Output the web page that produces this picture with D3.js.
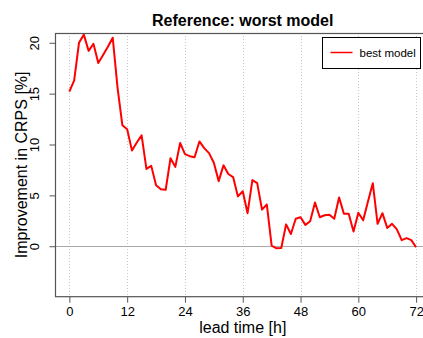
<!DOCTYPE html>
<html>
<head>
<meta charset="utf-8">
<script src="https://cdn.jsdelivr.net/npm/d3@7"></script>
<style>
  html, body { margin: 0; padding: 0; background: #fff; }
  svg { display: block; }
  text { font-family: "Liberation Sans", Arial, sans-serif; }
</style>
</head>
<body>
<svg id="chart" width="423" height="338"></svg>
<script>
// Lead times (hours) and CRPS improvement of the best model vs. the worst model (%)
const leadTimes = d3.range(0, 73);
const improvement = [
  15.2, 16.3, 20.0, 20.8, 19.2, 19.9, 18.0, 18.8, 19.6, 20.5,
  15.6, 11.9, 11.5, 9.4, 10.2, 10.9, 7.6, 7.9, 6.0, 5.6,
  5.55, 8.65, 7.8, 10.15, 9.05, 8.85, 8.75, 10.3, 9.65, 9.15,
  8.2, 6.4, 7.95, 7.1, 6.8, 4.9, 5.4, 3.25, 6.5, 6.2,
  3.6, 4.1, 0.05, -0.2, -0.18, 2.15, 1.2, 2.7, 2.85, 2.1,
  2.45, 4.3, 2.85, 3.05, 3.1, 2.7, 4.8, 3.2, 3.2, 1.45,
  3.3, 2.55, 4.4, 6.2, 2.2, 3.25, 1.8, 2.2, 1.65, 0.6,
  0.8, 0.6, -0.1
];
const xTicks = [0, 12, 24, 36, 48, 60, 72];
const yTicks = [0, 5, 10, 15, 20];
const seriesName = "best model";

const svg = d3.select("#chart");

// plotting region (extends past the right edge of the canvas)
const pLeft = 55.5, pRight = 430, pTop = 33, pBottom = 296.7;
const xExt = 72 * 0.04, yExt = 24 * 0.04;
const x = d3.scaleLinear().domain([0 - xExt, 72 + xExt]).range([pLeft, pRight]);
const y = d3.scaleLinear().domain([-4 - yExt, 20 + yExt]).range([pBottom, pTop]);

// vertical dotted grid at x ticks
svg.append("g").selectAll("line").data(xTicks).join("line")
  .attr("x1", d => Math.round(x(d)) + 0.5).attr("x2", d => Math.round(x(d)) + 0.5)
  .attr("y1", pTop).attr("y2", pBottom)
  .attr("stroke", "#c8c8c8").attr("stroke-width", 1)
  .attr("stroke-dasharray", "1,2");

// zero reference line
svg.append("line")
  .attr("x1", pLeft).attr("x2", pRight)
  .attr("y1", Math.round(y(0)) + 0.5).attr("y2", Math.round(y(0)) + 0.5)
  .attr("stroke", "#aaaaaa").attr("stroke-width", 1);

// data line
const line = d3.line().x((d, i) => x(leadTimes[i])).y(d => y(d));
svg.append("path")
  .datum(improvement)
  .attr("d", line)
  .attr("fill", "none")
  .attr("stroke", "#ff0000")
  .attr("stroke-width", 2)
  .attr("stroke-linejoin", "round");

// plot box
svg.append("rect")
  .attr("x", pLeft).attr("y", pTop + 0.5)
  .attr("width", pRight - pLeft).attr("height", pBottom - pTop - 0.5)
  .attr("fill", "none").attr("stroke", "#555").attr("stroke-width", 1.2);

// x axis
const xAxis = d3.axisBottom(x).tickValues(xTicks).tickSize(6).tickPadding(4).tickFormat(d3.format("d"));
const gx = svg.append("g").attr("transform", `translate(0,${pBottom})`).call(xAxis);
gx.select(".domain").remove();
gx.selectAll(".tick line").attr("stroke", "#555");
gx.selectAll(".tick text").attr("font-size", 13).attr("fill", "#000")
  .attr("font-family", "Liberation Sans, Arial, sans-serif");

// y axis with rotated labels
const yAxis = d3.axisLeft(y).tickValues(yTicks).tickSize(6).tickFormat(d3.format("d"));
const gy = svg.append("g").attr("transform", `translate(${pLeft},0)`).call(yAxis);
gy.select(".domain").remove();
gy.selectAll(".tick line").attr("stroke", "#555");
gy.selectAll(".tick text")
  .attr("font-size", 13).attr("fill", "#000")
  .attr("font-family", "Liberation Sans, Arial, sans-serif")
  .attr("x", null).attr("dy", null)
  .attr("text-anchor", "middle")
  .attr("transform", "translate(-17,0) rotate(-90)");

// title and axis labels
svg.append("text")
  .attr("x", (pLeft + pRight) / 2).attr("y", 26)
  .attr("text-anchor", "middle").attr("font-size", 16).attr("font-weight", "bold")
  .text("Reference: worst model");

svg.append("text")
  .attr("x", (pLeft + pRight) / 2).attr("y", 333)
  .attr("text-anchor", "middle").attr("font-size", 16)
  .text("lead time [h]");

svg.append("text")
  .attr("transform", `translate(27,${(pTop + pBottom) / 2}) rotate(-90)`)
  .attr("text-anchor", "middle").attr("font-size", 16)
  .text("Improvement in CRPS [%]");

// legend
const lg = svg.append("g").attr("transform", "translate(322.5,37.5)");
lg.append("rect").attr("width", 98).attr("height", 31)
  .attr("fill", "#fff").attr("stroke", "#000").attr("stroke-width", 1);
lg.append("line").attr("x1", 8).attr("x2", 30).attr("y1", 15).attr("y2", 15)
  .attr("stroke", "#ff0000").attr("stroke-width", 1.5);
lg.append("text").attr("x", 37).attr("y", 19).attr("font-size", 11.5)
  .text(seriesName);
</script>
</body>
</html>
